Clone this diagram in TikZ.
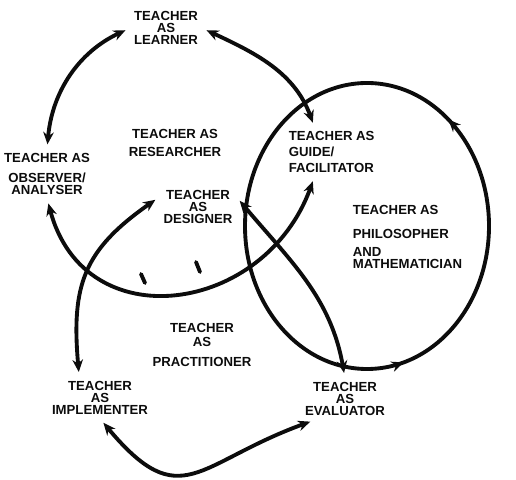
\documentclass[tikz,border=0pt]{standalone}
\usepackage{fontspec}
\setmainfont{Liberation Sans}
\usetikzlibrary{arrows.meta,positioning,decorations.markings}
\definecolor{tinta}{RGB}{12,12,12}

\tikzset{
  rol/.style={font=\bfseries\fontsize{7.5}{7}\selectfont,align=center,inner sep=2pt,text=tinta},
  enlace/.style={draw=tinta,line width=2.2pt,<->,shorten >=3pt,shorten <=3pt},
  trazo/.style={draw=tinta,line width=2.2pt}
}

\begin{document}
\begin{tikzpicture}[x=0.02cm,y=0.02cm,>={Stealth[length=7pt,width=6pt]}]
\useasboundingbox (0,0) rectangle (516,479);

% roles
\node[rol] (learner) at (166,451) {TEACHER\\AS\\LEARNER};
\node[rol] (observer) at (47,305) {TEACHER AS\\[4pt]OBSERVER/\\ANALYSER};
\node[rol] (researcher) at (175,336) {TEACHER AS\\[3pt]RESEARCHER};
\node[rol,align=left,anchor=west] (guide) at (285,327) {TEACHER AS\\[2pt]GUIDE/\\[2pt]FACILITATOR};
\node[rol] (designer) at (198,272) {TEACHER\\AS\\DESIGNER};
\node[rol,align=left,anchor=west] (philosopher) at (349,242) {TEACHER AS\\[7pt]PHILOSOPHER\\[3pt]AND\\MATHEMATICIAN};
\node[rol] (practitioner) at (202,134) {TEACHER\\[1pt]AS\\[4pt]PRACTITIONER};
\node[rol] (implementer) at (100,81) {TEACHER\\AS\\IMPLEMENTER};
\node[rol] (evaluator) at (345,80) {TEACHER\\AS\\EVALUATOR};

% the big circle
\coordinate (hub) at (367,253);
\draw[trazo,postaction={decorate},
  decoration={markings,mark=at position 0.14 with {\arrow{>}},mark=at position 0.795 with {\arrow{>}}}]
  (hub) ellipse [x radius=122,y radius=143];

% connectors
\draw[enlace] (learner.west) to[out=205,in=85] (observer.north);
\draw[enlace] (learner.east) to[out=-25,in=110] (guide.125);
\draw[enlace] (observer.south) to[out=-75,in=250,looseness=1.4] (guide.235);
\draw[enlace] (designer.165) to[out=215,in=95,looseness=1.2] (implementer.135);
\draw[enlace] (designer.15) to[out=-50,in=100] (evaluator.north);
\draw[enlace] (implementer.south) to[out=-50,in=200,looseness=1.5] (evaluator.215);

% stray pen marks
\draw[trazo,line cap=round] (141,205) -- (145,196);
\draw[trazo,line cap=round] (196,217) -- (200,207);
\end{tikzpicture}
\end{document}
